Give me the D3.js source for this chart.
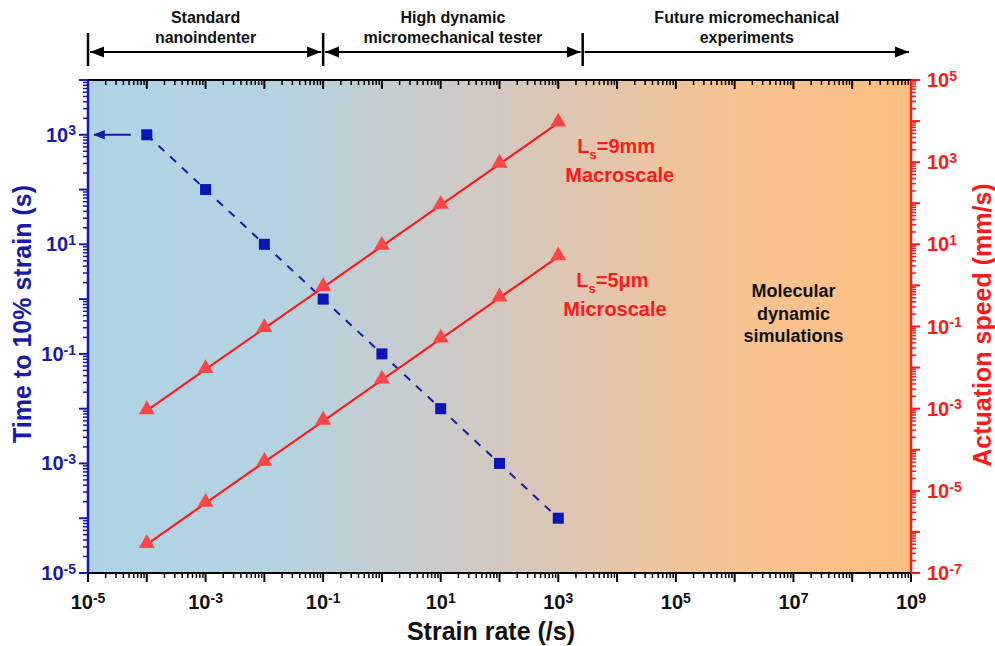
<!DOCTYPE html>
<html>
<head>
<meta charset="utf-8">
<script src="https://cdn.jsdelivr.net/npm/d3@7"></script>
<style>
  body { margin: 0; background: #fff; }
  svg { font-family: "Liberation Sans", Arial, sans-serif; font-weight: bold; }
</style>
</head>
<body>
<svg id="chart" width="995" height="646"></svg>
<script>
// strain rates (/s)
const strainRates = [1e-4, 1e-3, 1e-2, 1e-1, 1e0, 1e1, 1e2, 1e3];
// time to 10% strain (s), left axis
const timeTo10 = [1e3, 1e2, 1e1, 1e0, 1e-1, 1e-2, 1e-3, 1e-4];
// actuation speed (mm/s), right axis
const speedMacro = [9e-4, 9e-3, 9e-2, 9e-1, 9e0, 9e1, 9e2, 9e3];
const speedMicro = [5e-7, 5e-6, 5e-5, 5e-4, 5e-3, 5e-2, 5e-1, 5e0];

const xLabelExps = [-5, -3, -1, 1, 3, 5, 7, 9];
const yLeftLabelExps = [-5, -3, -1, 1, 3];
const yRightLabelExps = [-7, -5, -3, -1, 1, 3, 5];

// regime boundaries on strain-rate axis
const regimeBounds = [1e-5, 1e-1, 2.6e3, 1e9];
const regimeLabels = [["Standard", "nanoindenter"], ["High dynamic", "micromechanical tester"], ["Future micromechanical", "experiments"]];

const blue = "#1a1aaa";
const red = "#ff1a1a";

const svg = d3.select("#chart");
const margin = { top: 80, right: 84, bottom: 73, left: 88 };
const width = +svg.attr("width") - margin.left - margin.right;
const height = +svg.attr("height") - margin.top - margin.bottom;
const g = svg.append("g").attr("transform", `translate(${margin.left},${margin.top})`);

const x = d3.scaleLog().domain([1e-5, 1e9]).range([0, width]);
const yL = d3.scaleLog().domain([1e-5, 1e4]).range([height, 0]);
const yR = d3.scaleLog().domain([1e-7, 1e5]).range([height, 0]);

// background gradient
const defs = svg.append("defs");
const grad = defs.append("linearGradient").attr("id", "bg").attr("x1", "0%").attr("x2", "100%");
[["0%", "#afd3e6"], ["22%", "#b3d3e2"], ["50%", "#d3c8c0"], ["78%", "#f6c392"], ["100%", "#fdbe81"]]
  .forEach(([o, c]) => grad.append("stop").attr("offset", o).attr("stop-color", c));
g.append("rect").attr("width", width).attr("height", height).attr("fill", "url(#bg)");

// tick helpers
function logTicks(scale) {
  const [a, b] = scale.domain().map(Math.log10);
  const major = [], minor = [];
  for (let e = a; e <= b; e++) {
    major.push(Math.pow(10, e));
    if (e < b) for (let k = 2; k <= 9; k++) minor.push(k * Math.pow(10, e));
  }
  return { major, minor };
}
function supLabel(sel, exp) {
  sel.text("10").append("tspan").attr("dy", "-0.45em").attr("font-size", "0.7em").text(exp);
}

// x axis (bottom + top)
const xt = logTicks(x);
function xAxis(y0, dir, showLabels) {
  const ax = g.append("g");
  ax.append("line").attr("x1", 0).attr("x2", width).attr("y1", y0).attr("y2", y0)
    .attr("stroke", "#000").attr("stroke-width", 2);
  ax.selectAll(".mj").data(xt.major).enter().append("line")
    .attr("x1", d => x(d)).attr("x2", d => x(d))
    .attr("y1", y0).attr("y2", y0 + dir * 9).attr("stroke", "#000").attr("stroke-width", 2);
  ax.selectAll(".mn").data(xt.minor).enter().append("line")
    .attr("x1", d => x(d)).attr("x2", d => x(d))
    .attr("y1", y0).attr("y2", y0 + dir * 5).attr("stroke", "#000").attr("stroke-width", 1.5);
  if (showLabels) {
    xLabelExps.forEach(e => {
      ax.append("text").attr("x", x(Math.pow(10, e))).attr("y", y0 + 36)
        .attr("text-anchor", "middle").attr("font-size", 20).attr("fill", "#111")
        .call(supLabel, e);
    });
  }
}
xAxis(height, 1, true);
xAxis(0, 1, false);

// y axes
function yAxis(scale, x0, dir, color, labelExps) {
  const t = logTicks(scale);
  const ax = g.append("g");
  ax.append("line").attr("x1", x0).attr("x2", x0).attr("y1", 0).attr("y2", height)
    .attr("stroke", color).attr("stroke-width", 2.5);
  ax.selectAll(".mj").data(t.major).enter().append("line")
    .attr("y1", d => scale(d)).attr("y2", d => scale(d))
    .attr("x1", x0).attr("x2", x0 + dir * 9).attr("stroke", color).attr("stroke-width", 2);
  ax.selectAll(".mn").data(t.minor).enter().append("line")
    .attr("y1", d => scale(d)).attr("y2", d => scale(d))
    .attr("x1", x0).attr("x2", x0 + dir * 5).attr("stroke", color).attr("stroke-width", 1.5);
  labelExps.forEach(e => {
    ax.append("text").attr("x", x0 + dir * (dir < 0 ? 12 : 16)).attr("y", scale(Math.pow(10, e)) + 7)
      .attr("text-anchor", dir < 0 ? "end" : "start").attr("font-size", 20).attr("fill", color)
      .call(supLabel, e);
  });
}
yAxis(yL, 0, -1, blue, yLeftLabelExps);
yAxis(yR, width, 1, red, yRightLabelExps);

// axis titles
svg.append("text").attr("transform", "translate(31,314) rotate(-90)")
  .attr("text-anchor", "middle").attr("font-size", 25).attr("fill", blue).text("Time to 10% strain (s)");
svg.append("text").attr("transform", "translate(991,325) rotate(-90)")
  .attr("text-anchor", "middle").attr("font-size", 25).attr("fill", red).text("Actuation speed (mm/s)");
svg.append("text").attr("x", 491).attr("y", 640)
  .attr("text-anchor", "middle").attr("font-size", 25).attr("fill", "#111").text("Strain rate (/s)");

// blue series
const blueData = strainRates.map((r, i) => ({ x: r, y: timeTo10[i] }));
g.append("path").datum(blueData)
  .attr("fill", "none").attr("stroke", blue).attr("stroke-width", 2).attr("stroke-dasharray", "8,8")
  .attr("d", d3.line().x(d => x(d.x)).y(d => yL(d.y)));
g.selectAll(".sq").data(blueData).enter().append("rect")
  .attr("x", d => x(d.x) - 5.5).attr("y", d => yL(d.y) - 5.5)
  .attr("width", 11).attr("height", 11).attr("fill", "#0a16b8");

// arrow pointing to left axis
defs.append("marker").attr("id", "ab").attr("viewBox", "0 0 10 10").attr("refX", 9).attr("refY", 5)
  .attr("markerWidth", 6).attr("markerHeight", 6).attr("orient", "auto-start-reverse")
  .append("path").attr("d", "M0,1L10,5L0,9z").attr("fill", blue);
g.append("line").attr("x1", x(1e-4) - 16).attr("x2", 6).attr("y1", yL(1e3)).attr("y2", yL(1e3))
  .attr("stroke", blue).attr("stroke-width", 2).attr("marker-end", "url(#ab)");

// red series
const tri = d3.symbol().type(d3.symbolTriangle).size(110);
[speedMacro, speedMicro].forEach(vals => {
  const data = strainRates.map((r, i) => ({ x: r, y: vals[i] }));
  g.append("path").datum(data)
    .attr("fill", "none").attr("stroke", red).attr("stroke-width", 2.2)
    .attr("d", d3.line().x(d => x(d.x)).y(d => yR(d.y)));
  g.selectAll(null).data(data).enter().append("path")
    .attr("d", tri).attr("transform", d => `translate(${x(d.x)},${yR(d.y) - 1})`)
    .attr("fill", "#ff4646");
});

// series annotations
function lsLabel(xp, yp, val) {
  const t = g.append("text").attr("x", xp).attr("y", yp).attr("font-size", 20).attr("fill", red);
  t.append("tspan").text("L");
  t.append("tspan").attr("dy", 6).attr("font-size", 13).text("s");
  t.append("tspan").attr("dy", -6).text(val);
}
lsLabel(x(1e3) + 19, 73, "=9mm");
g.append("text").attr("x", x(1e3) + 7).attr("y", 102).attr("font-size", 20).attr("fill", red).text("Macroscale");
lsLabel(x(1e3) + 18, 207, "=5\u03bcm");
g.append("text").attr("x", x(1e3) + 5).attr("y", 236).attr("font-size", 20).attr("fill", red).text("Microscale");

const mol = g.append("text").attr("text-anchor", "middle").attr("font-size", 18).attr("fill", "#111");
["Molecular", "dynamic", "simulations"].forEach((s, i) =>
  mol.append("tspan").attr("x", x(1e7)).attr("y", 217 + i * 22.5).text(s));

// regime bars on top
defs.append("marker").attr("id", "ak").attr("viewBox", "0 0 10 10").attr("refX", 10).attr("refY", 5)
  .attr("markerWidth", 7).attr("markerHeight", 7).attr("orient", "auto-start-reverse")
  .append("path").attr("d", "M0,1L10,5L0,9z").attr("fill", "#000");
const topG = svg.append("g").attr("transform", `translate(${margin.left},0)`);
const arrowY = 52;
regimeBounds.slice(0, 3).forEach(b => {
  topG.append("line").attr("x1", x(b)).attr("x2", x(b)).attr("y1", 33).attr("y2", 66)
    .attr("stroke", "#000").attr("stroke-width", 2.5);
});
regimeLabels.forEach((lab, i) => {
  const a = x(regimeBounds[i]) + 2, b = x(regimeBounds[i + 1]) - 2;
  const ln = topG.append("line").attr("x1", a).attr("x2", b).attr("y1", arrowY).attr("y2", arrowY)
    .attr("stroke", "#000").attr("stroke-width", 2).attr("marker-end", "url(#ak)");
  if (i < 2) ln.attr("marker-start", "url(#ak)");
  const cx = (x(regimeBounds[i]) + x(regimeBounds[i + 1])) / 2;
  const t = topG.append("text").attr("text-anchor", "middle").attr("font-size", 16).attr("fill", "#111");
  lab.forEach((s, k) => t.append("tspan").attr("x", cx).attr("y", 23 + k * 20).text(s));
});
</script>
</body>
</html>
